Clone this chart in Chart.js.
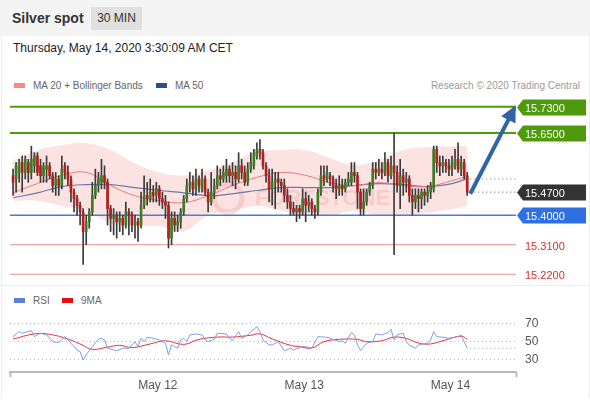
<!DOCTYPE html>
<html>
<head>
<meta charset="utf-8">
<script src="https://cdn.jsdelivr.net/npm/chart.js@4.4.0/dist/chart.umd.min.js"></script>
<style>
body{margin:0;width:590px;height:400px;overflow:hidden;background:#fff;position:relative;font-family:"Liberation Sans",Arial,sans-serif;color:#333}
#head{position:absolute;left:0;top:0;width:590px;height:36px;background:#f4f4f4}
#title{position:absolute;left:12px;top:10px;font-size:14px;font-weight:bold;color:#333}
#badge{position:absolute;left:91px;top:7px;width:51px;height:23px;line-height:23px;text-align:center;background:#e0e0e0;font-size:12px;color:#333}
#stamp{position:absolute;left:13px;top:41px;font-size:12px;color:#222}
.leg{position:absolute;font-size:10px;color:#666;white-space:nowrap}
.sw{display:inline-block;width:11px;height:5px;vertical-align:middle;margin-right:8px;position:relative;top:-1px}
#frame{position:absolute;left:1px;top:36px;width:587px;height:362px;border-left:1px solid #eee;border-right:1px solid #eee}
#sep{position:absolute;left:1px;top:285px;width:588px;height:1px;background:#eee}
canvas{position:absolute;left:0}
</style>
</head>
<body>
<div id="head"></div>
<div id="title">Silver spot</div>
<div id="badge">30 MIN</div>
<div id="frame"></div>
<div id="sep"></div>
<div id="stamp">Thursday, May 14, 2020 3:30:09 AM CET</div>
<div class="leg" style="left:14px;top:80px"><span class="sw" style="background:#f28b82"></span>MA 20 + Bollinger Bands</div>
<div class="leg" style="left:156px;top:80px"><span class="sw" style="background:#2b4f8e"></span>MA 50</div>
<div class="leg" style="right:10px;top:80px;color:#999">Research © 2020 Trading Central</div>
<div class="leg" style="left:14px;top:295px"><span class="sw" style="background:#5b82d6"></span>RSI</div>
<div class="leg" style="left:62px;top:295px"><span class="sw" style="background:#e01010"></span>9MA</div>
<canvas id="main" width="590" height="190" style="top:95px"></canvas>
<canvas id="rsi" width="590" height="115" style="top:285px"></canvas>
<script>
// 30 min candles, oldest first
const opens = [15.52,15.51,15.53,15.56,15.53,15.56,15.53,15.55,15.58,15.55,
  15.52,15.54,15.55,15.52,15.49,15.51,15.49,15.55,15.53,15.51,
  15.47,15.45,15.43,15.41,15.35,15.38,15.41,15.46,15.49,15.50,
  15.52,15.50,15.42,15.39,15.40,15.38,15.39,15.37,15.41,15.40,
  15.37,15.38,15.37,15.43,15.46,15.45,15.47,15.46,15.48,15.45,
  15.44,15.43,15.33,15.39,15.37,15.38,15.41,15.45,15.49,15.50,
  15.48,15.51,15.48,15.51,15.47,15.44,15.47,15.49,15.52,15.51,
  15.52,15.54,15.52,15.53,15.51,15.55,15.53,15.50,15.54,15.55,
  15.58,15.60,15.59,15.55,15.52,15.48,15.50,15.51,15.50,15.49,
  15.46,15.44,15.42,15.41,15.42,15.41,15.45,15.43,15.44,15.42,
  15.41,15.47,15.52,15.51,15.52,15.51,15.49,15.48,15.49,15.48,
  15.50,15.50,15.53,15.52,15.47,15.42,15.44,15.47,15.49,15.54,
  15.53,15.54,15.53,15.56,15.52,15.55,15.53,15.49,15.52,15.50,
  15.51,15.46,15.44,15.46,15.45,15.47,15.46,15.47,15.48,15.60,
  15.56,15.55,15.56,15.55,15.54,15.55,15.57,15.54,15.56,15.52];
const highs = [15.54,15.56,15.57,15.58,15.58,15.57,15.61,15.59,15.59,15.57,
  15.56,15.58,15.56,15.53,15.53,15.52,15.58,15.56,15.55,15.52,
  15.48,15.46,15.44,15.42,15.40,15.42,15.50,15.54,15.53,15.57,
  15.55,15.51,15.43,15.42,15.41,15.41,15.40,15.44,15.42,15.41,
  15.40,15.39,15.47,15.52,15.50,15.51,15.49,15.50,15.49,15.47,
  15.46,15.44,15.41,15.41,15.40,15.42,15.46,15.51,15.53,15.52,
  15.54,15.52,15.54,15.52,15.48,15.53,15.51,15.55,15.54,15.55,
  15.57,15.55,15.56,15.55,15.59,15.57,15.55,15.56,15.59,15.60,
  15.62,15.63,15.60,15.56,15.54,15.54,15.53,15.53,15.51,15.51,
  15.48,15.46,15.44,15.43,15.43,15.48,15.47,15.46,15.45,15.43,
  15.48,15.55,15.55,15.55,15.53,15.52,15.51,15.52,15.51,15.51,
  15.53,15.56,15.56,15.53,15.48,15.48,15.48,15.50,15.56,15.56,
  15.57,15.56,15.59,15.57,15.58,15.65,15.55,15.57,15.54,15.53,
  15.52,15.48,15.48,15.48,15.48,15.48,15.49,15.50,15.61,15.61,
  15.58,15.58,15.57,15.57,15.58,15.60,15.62,15.58,15.57,15.53];
const lows = [15.46,15.47,15.50,15.47,15.51,15.50,15.51,15.53,15.52,15.50,
  15.50,15.50,15.51,15.47,15.46,15.46,15.48,15.51,15.49,15.44,
  15.41,15.40,15.37,15.25,15.31,15.36,15.40,15.45,15.47,15.48,
  15.48,15.37,15.35,15.34,15.33,15.35,15.34,15.36,15.34,15.35,
  15.33,15.32,15.36,15.42,15.43,15.44,15.44,15.44,15.43,15.42,
  15.39,15.30,15.31,15.35,15.35,15.36,15.40,15.44,15.47,15.46,
  15.46,15.47,15.47,15.46,15.41,15.43,15.45,15.48,15.49,15.50,
  15.50,15.50,15.49,15.48,15.50,15.51,15.49,15.49,15.53,15.54,
  15.57,15.57,15.54,15.50,15.44,15.43,15.42,15.47,15.47,15.44,
  15.42,15.40,15.40,15.38,15.39,15.40,15.38,15.41,15.40,15.39,
  15.40,15.46,15.49,15.50,15.49,15.47,15.45,15.46,15.46,15.47,
  15.49,15.49,15.50,15.42,15.40,15.40,15.43,15.46,15.48,15.51,
  15.52,15.51,15.52,15.50,15.51,15.28,15.47,15.42,15.46,15.47,
  15.44,15.40,15.42,15.41,15.42,15.43,15.44,15.45,15.47,15.53,
  15.52,15.53,15.53,15.52,15.52,15.54,15.53,15.52,15.51,15.46];
const closes = [15.50,15.55,15.56,15.53,15.57,15.53,15.57,15.58,15.53,15.52,
  15.55,15.55,15.52,15.49,15.51,15.49,15.54,15.53,15.51,15.47,
  15.45,15.43,15.41,15.35,15.38,15.41,15.46,15.49,15.51,15.52,
  15.50,15.42,15.39,15.40,15.38,15.39,15.37,15.41,15.40,15.37,
  15.38,15.37,15.43,15.46,15.45,15.47,15.46,15.48,15.45,15.44,
  15.43,15.33,15.39,15.37,15.38,15.41,15.45,15.49,15.50,15.48,
  15.51,15.49,15.51,15.47,15.44,15.47,15.49,15.52,15.51,15.53,
  15.54,15.52,15.53,15.51,15.55,15.53,15.50,15.54,15.56,15.59,
  15.60,15.59,15.55,15.52,15.48,15.50,15.51,15.50,15.49,15.46,
  15.44,15.42,15.41,15.42,15.41,15.45,15.43,15.44,15.42,15.41,
  15.47,15.52,15.51,15.53,15.51,15.49,15.48,15.49,15.48,15.50,
  15.51,15.53,15.52,15.47,15.42,15.44,15.47,15.49,15.54,15.53,
  15.54,15.53,15.56,15.52,15.55,15.53,15.49,15.52,15.50,15.51,
  15.46,15.44,15.46,15.45,15.47,15.46,15.47,15.49,15.60,15.56,
  15.55,15.56,15.55,15.54,15.56,15.57,15.54,15.56,15.52,15.47];

// indicator readings, taken every 8 candles
const indIdx   = [0,8,16,24,32,40,48,56,64,72,80,88,96,104,112,120,128,136,144,149];
const bbUpper  = [15.567,15.598,15.613,15.619,15.598,15.558,15.530,15.521,15.536,15.561,15.592,15.598,15.598,15.573,15.552,15.567,15.598,15.607,15.610,15.610];
const bbLower  = [15.444,15.444,15.428,15.413,15.376,15.367,15.367,15.352,15.398,15.413,15.428,15.413,15.398,15.398,15.413,15.398,15.398,15.407,15.419,15.428];
const ma20     = [15.468,15.496,15.521,15.530,15.490,15.459,15.444,15.438,15.459,15.490,15.515,15.530,15.521,15.499,15.490,15.499,15.490,15.487,15.505,15.518];
const ma50     = [15.453,15.468,15.487,15.493,15.493,15.484,15.475,15.468,15.459,15.465,15.475,15.484,15.484,15.484,15.490,15.496,15.493,15.487,15.496,15.511];

// RSI panel
const rsiIdx = [0,2,3,6,7,9,11,13,15,17,19,21,22,23,24,26,28,29,30,31,33,34,36,38,39,40,41,42,43,44,46,48,50,51,52,53,54,55,56,57,58,60,62,63,64,66,67,70,71,72,74,75,77,78,80,81,82,84,85,87,89,91,92,95,96,98,100,103,105,107,108,109,111,112,113,114,116,118,119,121,123,124,125,126,128,129,130,132,133,136,137,138,139,141,143,146,147,148,149];
const rsiVal = [55.5,60.9,59.2,62,55.5,59.2,57.3,50,48.9,55.5,48.3,41,39.1,30,35.5,44.6,52.6,53.7,51.9,42.8,41,39.9,42.8,42.8,46.4,50,44.6,53.7,50,54.8,53.7,51.9,48.3,35.5,46.4,44.6,42.8,51.9,53.7,50,57.3,58.4,57.3,51.9,50,52.6,59.2,58.4,53.7,51.2,60.9,53.7,57.3,60.9,66.3,60.9,51.9,46.4,46.4,50,39.9,42.8,41,44.6,44.6,42.8,55.5,54.8,52.6,50,50.8,48.3,59.8,57.3,46.4,40.2,48.3,50,58.4,57.3,59.8,63.5,51.9,57.3,59.2,50,46.4,42.8,46.4,48.3,51.9,60.9,55.5,54.8,53.7,55.5,57.3,50,42.8];
const maIdx = [0,7,12,18,23,26,31,35,39,45,50,56,61,67,72,78,81,85,91,94,98,102,107,113,116,121,125,129,133,137,142,147,149];
const maVal = [52.8,58.5,58,52.8,46,41.5,44,46,43.5,47.5,51,47,52.5,55,55,57,58.5,53,46,44.5,43,50,52.5,52.5,50,51,55,53.5,48.5,47.5,52,56,52.8];
const rsiTicks = [30, 50, 70];

// levels shown on the right
const resistances = [15.73, 15.65];
const lastPrice = 15.47;
const pivot = 15.40;
const supports = [15.31, 15.22];
const maLast = 15.51;
const arrowFrom = {x: 150, y: 15.465};
const arrowTo = {x: 164.6, y: 15.728};

// x axis
const dayTicks = [47.5, 95.5, 143.5];
const dayLabels = ['May 12', 'May 13', 'May 14'];
const xMin = -1, xMax = 165;

const GREEN = '#4f9a0c', BLUE = '#2f6fe4', DARK = '#333333', RED = '#d93030';
const FONT = '"Liberation Sans", Arial, sans-serif';

function pts(xs, ys){ return xs.map((x, k) => ({x: x, y: ys[k]})); }
function hline(v, a, b){ return [{x: a, y: v}, {x: b, y: v}]; }

const candleIdx = closes.map((c, i) => i);

// right side price tags + arrow head + watermark
const tagPlugin = {
    id: 'tags',
    beforeDatasetsDraw(chart){
        const c = chart.ctx;
        c.save();
        c.globalAlpha = 0.2;
        c.fillStyle = '#e05050';
        c.strokeStyle = '#e05050';
        c.lineWidth = 5;
        c.beginPath();
        c.arc(228, 103, 14, 0, Math.PI * 2);
        c.stroke();
        c.font = 'bold 22px ' + FONT;
        c.textBaseline = 'middle';
        c.fillText('FORTSTONE', 255, 104);
        c.restore();
    },
    afterDatasetsDraw(chart){
        const c = chart.ctx, y = chart.scales.y, x = chart.scales.x;
        // arrow head
        const x1 = x.getPixelForValue(arrowFrom.x), y1 = y.getPixelForValue(arrowFrom.y);
        const x2 = x.getPixelForValue(arrowTo.x), y2 = y.getPixelForValue(arrowTo.y);
        const ang = Math.atan2(y2 - y1, x2 - x1);
        c.save();
        c.fillStyle = '#2f64a6';
        c.translate(x2, y2);
        c.rotate(ang);
        c.beginPath();
        c.moveTo(2, 0);
        c.lineTo(-14, -8);
        c.lineTo(-14, 8);
        c.closePath();
        c.fill();
        c.restore();

        const tags = [
            {v: resistances[0], bg: GREEN}, {v: resistances[1], bg: GREEN},
            {v: lastPrice, bg: DARK}, {v: pivot, bg: BLUE},
            {v: supports[0], bg: null}, {v: supports[1], bg: null}
        ];
        c.save();
        c.font = '11px ' + FONT;
        c.textBaseline = 'middle';
        tags.forEach(t => {
            const py = Math.round(y.getPixelForValue(t.v)) + 0.5;
            if (t.bg) {
                c.fillStyle = t.bg;
                c.beginPath();
                c.moveTo(517, py);
                c.lineTo(523, py - 8);
                c.lineTo(586, py - 8);
                c.lineTo(586, py + 8);
                c.lineTo(523, py + 8);
                c.closePath();
                c.fill();
                c.fillStyle = '#fff';
            } else {
                c.fillStyle = RED;
            }
            c.fillText(t.v.toFixed(4), 525, py + 1);
        });
        c.restore();
    }
};

const line = (data, color, width, extra) => Object.assign({
    type: 'line', data: data, borderColor: color, borderWidth: width,
    pointRadius: 0, fill: false, tension: 0
}, extra || {});

new Chart(document.getElementById('main'), {
    type: 'bar',
    data: {
        datasets: [
            line([arrowFrom, arrowTo], '#2f64a6', 4, {order: 0}),
            {
                data: candleIdx.map(i => ({x: i, y: [opens[i], closes[i]]})),
                backgroundColor: ctx => closes[ctx.dataIndex] >= opens[ctx.dataIndex] ? '#3f7a26' : '#b81c1c',
                barThickness: 2, minBarLength: 1, grouped: false, order: 1
            },
            {
                data: candleIdx.map(i => ({x: i, y: [lows[i], highs[i]]})),
                backgroundColor: '#3a3a3a',
                barThickness: 1, grouped: false, order: 2
            },
            line(pts(indIdx, ma20), '#ea7a7a', 1, {tension: 0.4, order: 4}),
            line(pts(indIdx, ma50), '#6a7aa8', 1.2, {tension: 0.4, order: 4}),
            line(hline(resistances[0], xMin, xMax), GREEN, 2, {order: 6}),
            line(hline(resistances[1], xMin, xMax), GREEN, 2, {order: 6}),
            line(hline(pivot, xMin, xMax), '#4a7ae0', 1.5, {order: 6}),
            line(hline(supports[0], xMin, xMax), '#f09090', 1, {order: 6}),
            line(hline(supports[1], xMin, xMax), '#f09090', 1, {order: 6}),
            line(hline(lastPrice, 150, xMax), '#555', 1, {borderDash: [1, 3], order: 6}),
            line(hline(maLast, 150, xMax), '#777', 1, {borderDash: [1, 3], order: 6}),
            line(pts(indIdx, bbUpper), 'rgba(0,0,0,0)', 0, {tension: 0.4, fill: '+1', backgroundColor: 'rgba(248,165,165,0.32)', order: 10}),
            line(pts(indIdx, bbLower), 'rgba(0,0,0,0)', 0, {tension: 0.4, order: 11})
        ]
    },
    options: {
        responsive: false, animation: false,
        layout: {padding: {left: 10, right: 74, top: 0, bottom: 0}},
        plugins: {legend: {display: false}, tooltip: {enabled: false}},
        scales: {
            x: {type: 'linear', display: false, offset: false, min: xMin, max: xMax},
            y: {display: false, min: 15.1874, max: 15.7656}
        }
    },
    plugins: [tagPlugin]
});

new Chart(document.getElementById('rsi'), {
    type: 'line',
    data: {
        datasets: [
            line(pts(rsiIdx, rsiVal), '#7f9ee6', 1),
            line(pts(maIdx, maVal), '#e8323c', 1, {tension: 0.4}),
            line(hline(rsiVal[rsiVal.length - 1], 150, xMax), '#999', 1, {borderDash: [1, 3]})
        ]
    },
    options: {
        responsive: false, animation: false,
        layout: {padding: {left: 10, top: 21, right: 0, bottom: 0}},
        plugins: {legend: {display: false}, tooltip: {enabled: false}},
        scales: {
            x: {
                type: 'linear', min: xMin, max: xMax,
                afterBuildTicks: s => { s.ticks = [xMin].concat(dayTicks, [xMax]).map(v => ({value: v})); },
                afterFit: s => { s.height = 28; },
                grid: {drawOnChartArea: false, tickLength: 5, tickWidth: 2,
                       tickColor: ctx => (ctx.tick && (ctx.tick.value === xMin || ctx.tick.value === xMax)) ? '#bbb' : 'rgba(0,0,0,0)'},
                border: {color: '#bbb', width: 2},
                ticks: {
                    autoSkip: false, maxRotation: 0, padding: 1, color: '#555',
                    font: {size: 12, family: FONT},
                    callback: v => { const k = dayTicks.indexOf(v); return k < 0 ? '' : dayLabels[k]; }
                }
            },
            y: {
                position: 'right', min: 16.9, max: 88.9,
                afterBuildTicks: s => { s.ticks = rsiTicks.map(v => ({value: v})); },
                afterFit: s => { s.width = 74; },
                grid: {color: '#bbb', drawTicks: false},
                border: {display: false, dash: [1, 3]},
                ticks: {padding: 9, color: '#555', font: {size: 12, family: FONT}}
            }
        }
    }
});
</script>
</body>
</html>
